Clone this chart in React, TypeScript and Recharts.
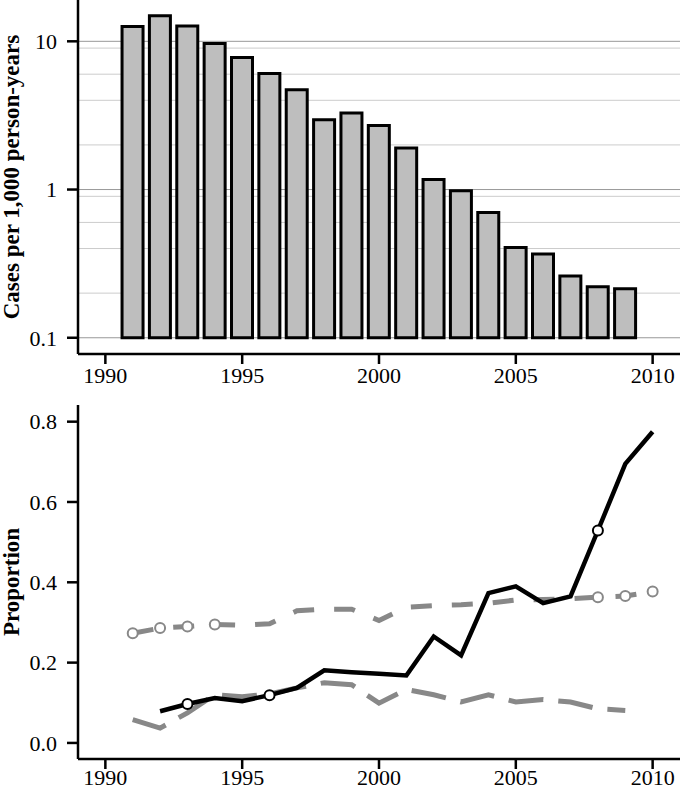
import React from 'react';
import { ComposedChart, Bar, Line, XAxis, YAxis, CartesianGrid, Label } from 'recharts';

// top panel: incidence per 1,000 person-years (log scale)
const barYears = [1991, 1992, 1993, 1994, 1995, 1996, 1997, 1998, 1999, 2000, 2001, 2002, 2003, 2004, 2005, 2006, 2007, 2008, 2009];
const incidence = [12.6, 14.9, 12.7, 9.67, 7.78, 6.07, 4.71, 2.96, 3.28, 2.7, 1.91, 1.17, 0.98, 0.7, 0.407, 0.367, 0.261, 0.221, 0.214];
const BAR_BASE = 0.1;
const logTicks = [0.1, 1, 10];
const minorGrid = [0.2, 0.3, 0.4, 0.5, 0.6, 0.7, 0.8, 0.9, 2, 3, 4, 5, 6, 7, 8, 9];

// bottom panel: proportions
const lineYears = [1991, 1992, 1993, 1994, 1995, 1996, 1997, 1998, 1999, 2000, 2001, 2002, 2003, 2004, 2005, 2006, 2007, 2008, 2009, 2010];
const solidBlack = [null, 0.079, 0.097, 0.112, 0.104, 0.119, 0.137, 0.181, 0.176, 0.172, 0.168, 0.265, 0.218, 0.373, 0.39, 0.348, 0.365, 0.529, 0.695, 0.775];
const upperGray = [0.273, 0.286, 0.29, 0.295, 0.293, 0.297, 0.329, 0.333, 0.333, 0.305, 0.338, 0.342, 0.344, 0.348, 0.356, 0.357, 0.359, 0.363, 0.366, 0.377];
const lowerGray = [0.058, 0.037, 0.075, 0.12, 0.115, 0.122, 0.137, 0.15, 0.145, 0.099, 0.133, 0.12, 0.102, 0.12, 0.102, 0.108, 0.102, 0.085, 0.081, null];
const blackMarked = [1993, 1996, 2008];
const grayMarked = [1991, 1992, 1993, 1994, 2008, 2009, 2010];

const yearTicks = [1990, 1995, 2000, 2005, 2010];
const propTicks = [0, 0.2, 0.4, 0.6, 0.8];

const barData = barYears.map((year, i) => ({ year, rate: [BAR_BASE, incidence[i]] }));
const lineData = lineYears.map((year, i) => ({
  year,
  black: solidBlack[i],
  upper: upperGray[i],
  lower: lowerGray[i],
}));

const SERIF = '"Liberation Serif", "Times New Roman", serif';
const axisLine = { stroke: '#000', strokeWidth: 2.5 };

// custom ticks so the font size actually sticks
const makeXTick = (shift: number) => (props: any) => {
  const { x, y, payload } = props;
  return (
    <text x={x} y={y + shift} dy="0.71em" textAnchor="middle" fontFamily={SERIF} fontSize={22} fill="#000">
      {payload.value}
    </text>
  );
};

// tickMargin gets ignored with custom ticks here, so nudge left by hand
const makeYTick = (fmt: (v: number) => string) => (props: any) => {
  const { x, y, payload } = props;
  return (
    <text x={x - 8} y={y} dy="0.355em" textAnchor="end" fontFamily={SERIF} fontSize={22} fill="#000">
      {fmt(payload.value)}
    </text>
  );
};

const makeDot = (marked: number[], stroke: string) => (props: any) => {
  const { cx, cy, payload, index } = props;
  if (cy == null || !marked.includes(payload.year)) return <g key={`d${index}`} />;
  return <circle key={`d${index}`} cx={cx} cy={cy} r={5} fill="#fff" stroke={stroke} strokeWidth={2} />;
};

const axisTitle = (text: string) => (props: any) => {
  const vb = props.viewBox || {};
  const cy = (vb.y ?? 0) + (vb.height ?? 0) / 2;
  return (
    <text
      x={18.5}
      y={cy}
      transform={`rotate(-90, 18.5, ${cy})`}
      textAnchor="middle"
      fontFamily={SERIF}
      fontWeight="bold"
      fontSize={23}
      fill="#000"
    >
      {text}
    </text>
  );
};

export default function App() {
  return (
    <div style={{ position: 'absolute', left: 0, top: 0, width: 680, height: 794, background: '#fff' }}>
      <ComposedChart width={680} height={392} data={barData} margin={{ top: 0, right: 0, bottom: 0, left: 0 }}>
        <CartesianGrid horizontal vertical={false} horizontalValues={minorGrid} stroke="#cccccc" strokeWidth={1} />
        <CartesianGrid horizontal vertical={false} horizontalValues={logTicks} stroke="#999999" strokeWidth={1} />
        <XAxis
          dataKey="year"
          type="number"
          domain={[1989, 2011]}
          ticks={yearTicks}
          height={38}
          axisLine={axisLine}
          tickLine={axisLine}
          tickSize={10}
          tick={makeXTick(1)}
        />
        <YAxis
          scale="log"
          domain={[0.0777, 19]}
          allowDataOverflow
          ticks={logTicks}
          width={78}
          axisLine={axisLine}
          tickLine={axisLine}
          tickSize={11}
          tick={makeYTick((v) => String(v))}
        >
          <Label content={axisTitle('Cases per 1,000 person-years')} />
        </YAxis>
        <Bar dataKey="rate" barSize={21} fill="#bebebe" stroke="#000" strokeWidth={3} isAnimationActive={false} />
      </ComposedChart>
      <ComposedChart width={680} height={402} data={lineData} margin={{ top: 13, right: 0, bottom: 0, left: 0 }}>
        <XAxis
          dataKey="year"
          type="number"
          domain={[1989, 2011]}
          ticks={yearTicks}
          height={35}
          axisLine={axisLine}
          tickLine={axisLine}
          tickSize={10}
          tick={makeXTick(-2)}
        />
        <YAxis
          domain={[-0.04, 0.8415]}
          allowDataOverflow
          ticks={propTicks}
          width={78}
          axisLine={axisLine}
          tickLine={axisLine}
          tickSize={11}
          tick={makeYTick((v) => Number(v).toFixed(1))}
        >
          <Label content={axisTitle('Proportion')} />
        </YAxis>
        <Line
          dataKey="lower"
          stroke="#888888"
          strokeWidth={5}
          strokeDasharray="35 15"
          dot={false}
          activeDot={false}
          isAnimationActive={false}
        />
        <Line
          dataKey="upper"
          stroke="#888888"
          strokeWidth={5}
          strokeDasharray="21 20"
          dot={makeDot(grayMarked, '#888888')}
          activeDot={false}
          isAnimationActive={false}
        />
        <Line
          dataKey="black"
          stroke="#000"
          strokeWidth={4.5}
          dot={makeDot(blackMarked, '#000')}
          activeDot={false}
          isAnimationActive={false}
        />
      </ComposedChart>
    </div>
  );
}
